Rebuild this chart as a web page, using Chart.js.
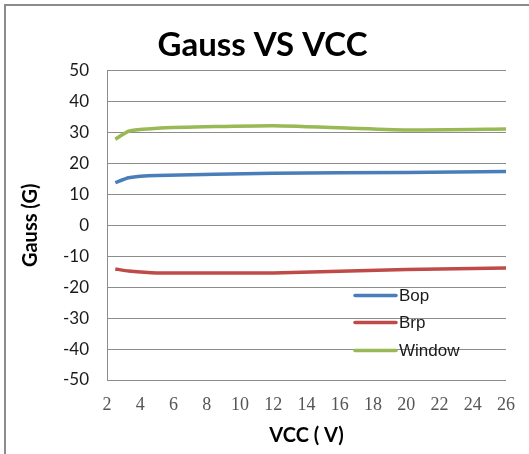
<!DOCTYPE html>
<html>
<head>
<meta charset="utf-8">
<script src="https://cdn.jsdelivr.net/npm/chart.js@4/dist/chart.umd.min.js"></script>
<style>
  html, body { margin: 0; padding: 0; background: #fff; }
  #wrap { position: relative; width: 529px; height: 454px; overflow: hidden; }
  #frame { position: absolute; left: 4px; top: 4px; width: 600px; height: 600px;
           border-top: 2px solid #8c8c8c; border-left: 2px solid #8c8c8c; box-sizing: border-box; }
  canvas { position: absolute; left: 0; top: 0; }
</style>
</head>
<body>
<div id="wrap">
  <canvas id="c" width="529" height="454"></canvas>
  <div id="frame"></div>
</div>
<script>
// ---- data ----
const vcc = [2.5, 3.3, 5, 12, 20, 26];
const bop = [13.8, 15.4, 16.1, 16.8, 17.1, 17.4];
const brp = [-14.1, -14.8, -15.4, -15.4, -14.3, -13.8];
const windowVals = [27.8, 30.4, 31.4, 32.2, 30.8, 31.1];
const seriesNames = ['Bop', 'Brp', 'Window'];
const seriesColors = ['#4a7ebb', '#be4b48', '#98b954'];
const yTicks = [50, 40, 30, 20, 10, 0, -10, -20, -30, -40, -50];
const xTicks = [2, 4, 6, 8, 10, 12, 14, 16, 18, 20, 22, 24, 26];

const allSeries = [bop, brp, windowVals];
const datasets = allSeries.map((vals, i) => ({
  label: seriesNames[i],
  data: vcc.map((x, j) => ({ x: x, y: vals[j] })),
  borderColor: seriesColors[i],
  backgroundColor: seriesColors[i],
  borderWidth: 3.5,
  pointRadius: 0,
  tension: 0.15
}));

const legendPlugin = {
  id: 'customLegend',
  afterDraw(chart) {
    const ctx = chart.ctx;
    const a = chart.chartArea;
    const x0 = a.left + 248;
    const rows = [a.top + 225, a.top + 252, a.top + 280];
    ctx.save();
    ctx.font = '17px "Liberation Sans", Arial, sans-serif';
    ctx.textBaseline = 'middle';
    chart.data.datasets.forEach((ds, i) => {
      ctx.strokeStyle = ds.borderColor;
      ctx.lineWidth = 3.5;
      ctx.lineCap = 'round';
      ctx.beginPath();
      ctx.moveTo(x0, rows[i]);
      ctx.lineTo(x0 + 41, rows[i]);
      ctx.stroke();
      ctx.fillStyle = '#1a1a1a';
      ctx.fillText(ds.label, x0 + 44, rows[i] + 1);
    });
    ctx.restore();
  }
};

new Chart(document.getElementById('c'), {
  type: 'line',
  data: { datasets },
  options: {
    responsive: false,
    animation: false,
    layout: { padding: { left: 19, right: 23, top: 0, bottom: 0 } },
    plugins: {
      legend: { display: false },
      tooltip: { enabled: false },
      title: {
        display: true,
        text: 'Gauss VS VCC',
        color: '#000',
        font: { family: 'Lato, "Liberation Sans", sans-serif', size: 33, weight: 'bold' },
        padding: { top: 26, bottom: 5 }
      }
    },
    scales: {
      x: {
        type: 'linear',
        min: 2, max: 26,
        afterBuildTicks(s) { s.ticks = xTicks.map(v => ({ value: v })); },
        afterFit(s) { s.height = 74; },
        grid: { display: false, drawTicks: false },
        border: { display: false },
        ticks: {
          color: '#555',
          font: { family: '"Liberation Serif", serif', size: 18 },
          padding: 14,
          maxRotation: 0,
          autoSkip: false
        },
        title: {
          display: true,
          text: 'VCC ( V)',
          color: '#000',
          font: { family: 'Lato, sans-serif', size: 20, weight: 'bold' },
          padding: { top: 0, bottom: 6 }
        }
      },
      y: {
        min: -50, max: 50,
        afterBuildTicks(s) { s.ticks = yTicks.map(v => ({ value: v })); },
        afterFit(s) { s.width = 88; },
        grid: { color: '#8c8c8c', lineWidth: 1, drawTicks: false },
        border: { display: true, color: '#8c8c8c', width: 1 },
        ticks: {
          color: '#1a1a1a',
          font: { family: 'Lato, sans-serif', size: 17 },
          padding: 18
        },
        title: {
          display: true,
          text: 'Gauss (G)',
          color: '#000',
          font: { family: 'Lato, sans-serif', size: 20, weight: 'bold' },
          padding: { top: 0, bottom: 4 }
        }
      }
    }
  },
  plugins: [legendPlugin]
});
</script>
</body>
</html>
